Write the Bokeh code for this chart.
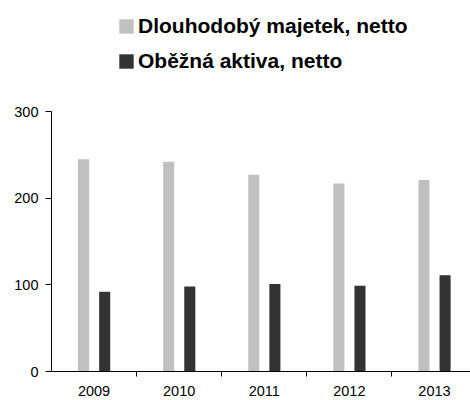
from bokeh.plotting import figure
from bokeh.models import ColumnDataSource, Legend, LegendItem, FixedTicker, Range1d
from bokeh.transform import dodge
from bokeh.embed import file_html
from bokeh.resources import INLINE

years = ["2009", "2010", "2011", "2012", "2013"]
dlouhodoby = [245, 242, 227, 217, 221]
obezna = [92, 98, 101, 99, 111]
y_ticks = [0, 100, 200, 300]

centers = [i + 0.5 for i in range(len(years))]
src = ColumnDataSource(dict(x=centers, a=dlouhodoby, b=obezna))

W, H = 470, 400
left, bottom = 51, 29
frame_w = W - left
frame_h = H - bottom          # frame spans from canvas top to y=371
cat_px = 85.1
px_per_unit = 260.0 / 300.0   # 300 sits at y=111
y_end = frame_h / px_per_unit

p = figure(width=W, height=H, output_backend="svg", toolbar_location=None,
           x_range=Range1d(0, frame_w / cat_px), y_range=Range1d(0, y_end),
           min_border_left=left, min_border_right=0, min_border_top=0,
           min_border_bottom=bottom)
p.outline_line_color = None
p.xgrid.visible = False
p.ygrid.visible = False
p.background_fill_color = "white"
p.border_fill_color = "white"

r1 = p.vbar(x=dodge("x", -0.123), top="a", width=0.13, source=src,
            fill_color="#C0C0C0", line_color=None)
r2 = p.vbar(x=dodge("x", 0.125), top="b", width=0.13, source=src,
            fill_color="#333333", line_color=None)

xa = p.xaxis[0]
xa.ticker = FixedTicker(ticks=centers, minor_ticks=[1, 2, 3, 4])
xa.major_label_overrides = {c: y for c, y in zip(centers, years)}
xa.major_tick_out = 0
xa.major_tick_in = 0
xa.minor_tick_out = 5
xa.minor_tick_in = 0
xa.minor_tick_line_color = "black"
xa.axis_line_color = "black"
xa.major_label_text_font = "Liberation Sans"
xa.major_label_text_font_size = "14.5px"
xa.major_label_text_color = "black"
xa.major_label_standoff = 9

ya = p.yaxis[0]
ya.ticker = FixedTicker(ticks=y_ticks, minor_ticks=[])
ya.bounds = (0, 300)
ya.major_tick_out = 6
ya.major_tick_in = 0
ya.axis_line_color = "black"
ya.major_tick_line_color = "black"
ya.major_label_text_font = "Liberation Sans"
ya.major_label_text_font_size = "14.5px"
ya.major_label_text_color = "black"
ya.major_label_standoff = 7

legend = Legend(items=[LegendItem(label="Dlouhodobý majetek, netto", renderers=[r1]),
                       LegendItem(label="Oběžná aktiva, netto", renderers=[r2])],
                location=(66, 298), orientation="vertical")
legend.glyph_width = 18
legend.glyph_height = 18
legend.label_height = 24
legend.spacing = 11
legend.padding = 0
legend.margin = 0
legend.label_standoff = 3
legend.label_text_font = "Liberation Sans"
legend.label_text_font_style = "bold"
legend.label_text_font_size = "21px"
legend.label_text_color = "black"
legend.border_line_color = None
legend.background_fill_alpha = 0
p.add_layout(legend, "center")

open("out.html", "w").write(file_html(p, INLINE))
